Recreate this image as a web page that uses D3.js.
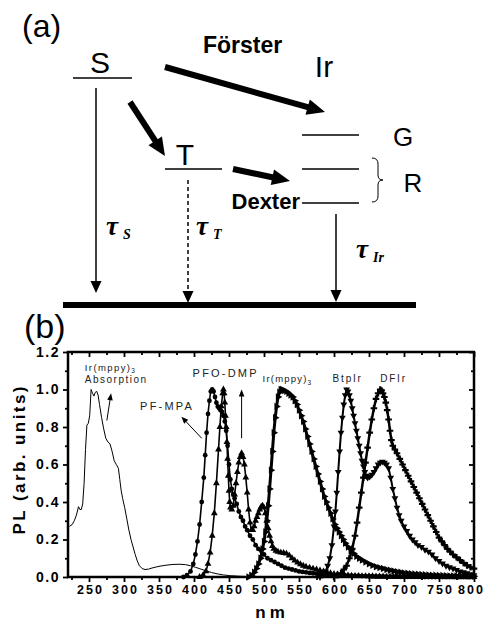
<!DOCTYPE html>
<html>
<head>
<meta charset="utf-8">
<script src="https://cdnjs.cloudflare.com/ajax/libs/d3/7.8.5/d3.min.js"></script>
<style>
body { margin: 0; background: #fff; }
svg { display: block; font-family: "Liberation Sans", Arial, sans-serif; }
</style>
</head>
<body>
<svg id="chart" width="484" height="621"></svg>
<script>
// ---- panel (a): energy level scheme ----
const levels = [
    { x1: 73, x2: 132, y: 78 },    // S
    { x1: 165, x2: 222, y: 169 },  // T
    { x1: 302, x2: 359, y: 135 },  // Ir G
    { x1: 302, x2: 359, y: 169 },  // Ir R upper
    { x1: 302, x2: 359, y: 203 }   // Ir R lower
];
const transferArrows = [
    { from: [165, 67], to: [325, 112] },   // Förster
    { from: [130, 102], to: [165, 156] },  // S -> T
    { from: [233, 169], to: [290, 181] }   // Dexter
];
const decayArrows = [
    { x: 96, y1: 88, y2: 293, dashed: false },
    { x: 188, y1: 180, y2: 303, dashed: true },
    { x: 336, y1: 214, y2: 302, dashed: false }
];
const schemeLabels = [
    { text: "(a)", x: 22, y: 37, size: 32, weight: "normal", anchor: "start" },
    { text: "S", x: 100, y: 73, size: 30, weight: "normal", anchor: "middle" },
    { text: "T", x: 185, y: 165, size: 30, weight: "normal", anchor: "middle" },
    { text: "Ir", x: 324, y: 77, size: 30, weight: "normal", anchor: "middle" },
    { text: "Förster", x: 203, y: 53, size: 23, weight: "bold", anchor: "start" },
    { text: "Dexter", x: 300, y: 209, size: 22, weight: "bold", anchor: "end" },
    { text: "G", x: 403, y: 146, size: 26, weight: "normal", anchor: "middle" },
    { text: "R", x: 413, y: 192, size: 26, weight: "normal", anchor: "middle" },
    { text: "(b)", x: 24, y: 338, size: 34, weight: "normal", anchor: "start" }
];
const tauLabels = [
    { sub: "S", x: 106, y: 235 },
    { sub: "T", x: 196, y: 235 },
    { sub: "Ir", x: 356, y: 258 }
];

// ---- panel (b): spectra (nm, normalised PL) ----
const absorption = [[222,0.27],[226,0.28],[229,0.3],[232,0.33],[235,0.375],[237,0.36],[239,0.36],[241,0.39],[243,0.5],[245,0.68],[247,0.81],[249,0.82],[251,0.86],[253,1.0],[255,0.98],[257,0.965],[259,0.985],[261,0.99],[263,0.97],[265,0.92],[268,0.85],[271,0.79],[274,0.74],[277,0.72],[280,0.71],[283,0.67],[286,0.62],[289,0.6],[292,0.58],[294,0.52],[296,0.46],[298,0.42],[301,0.37],[304,0.31],[307,0.25],[310,0.2],[313,0.16],[316,0.12],[319,0.085],[322,0.06],[326,0.045],[330,0.04],[335,0.042],[340,0.048],[350,0.057],[360,0.063],[370,0.067],[380,0.068],[388,0.066],[395,0.06],[402,0.052],[410,0.042],[418,0.032],[425,0.024],[433,0.017],[442,0.011],[452,0.007],[465,0.004],[480,0.002],[500,0.001],[520,0]];

const pfMpa = [[385,0],[390,0.01],[395,0.03],[399,0.07],[402,0.12],[405,0.19],[408,0.28],[411,0.4],[414,0.53],[416,0.65],[418,0.77],[420,0.87],[422,0.94],[424,0.99],[426,1.0],[428,0.99],[430,0.96],[432,0.93],[434,0.91],[436,0.9],[438,0.89],[440,0.88],[442,0.86],[444,0.83],[446,0.78],[448,0.7],[450,0.6],[452,0.52],[454,0.47],[456,0.44],[458,0.42],[461,0.39],[464,0.35],[467,0.32],[470,0.3],[473,0.27],[476,0.25],[480,0.22],[484,0.2],[488,0.17],[492,0.15],[496,0.14],[500,0.12],[505,0.1],[510,0.09],[515,0.08],[520,0.07],[525,0.06],[530,0.05],[535,0.045],[540,0.04],[545,0.035],[550,0.03],[555,0.027],[560,0.025],[565,0.022],[570,0.02],[575,0.018],[580,0.017],[585,0.015],[590,0.014],[595,0.012],[600,0.011],[605,0.01],[610,0.009],[615,0.008],[620,0.007],[625,0.007],[630,0.006],[635,0.006],[640,0.005],[645,0.005],[650,0.004],[655,0.004],[660,0.003],[665,0.003],[670,0.003],[675,0.002],[680,0.002],[685,0.002],[690,0.002],[695,0.001],[700,0.001],[705,0.001],[710,0.001],[715,0.001],[720,0.001],[725,0],[730,0],[735,0],[740,0],[745,0],[750,0],[755,0],[760,0],[765,0],[770,0],[775,0],[780,0],[785,0],[790,0],[795,0],[800,0]];

const pfoDmp = [[408,0],[413,0.01],[417,0.03],[420,0.07],[423,0.13],[426,0.22],[429,0.34],[432,0.5],[435,0.68],[437,0.8],[439,0.91],[441,0.98],[442,1.0],[443,0.98],[444,0.93],[445,0.86],[446,0.8],[447,0.72],[448,0.63],[449,0.54],[450,0.46],[451,0.4],[452,0.37],[454,0.36],[456,0.38],[458,0.44],[460,0.5],[462,0.56],[464,0.61],[466,0.64],[468,0.66],[470,0.64],[472,0.6],[474,0.53],[476,0.45],[478,0.36],[480,0.29],[482,0.25],[484,0.25],[486,0.27],[488,0.3],[490,0.32],[492,0.34],[494,0.36],[496,0.375],[498,0.38],[500,0.37],[502,0.34],[504,0.3],[506,0.26],[508,0.22],[510,0.19],[512,0.165],[514,0.15],[517,0.14],[520,0.135],[524,0.13],[528,0.128],[532,0.125],[536,0.115],[540,0.1],[544,0.088],[548,0.077],[552,0.068],[556,0.06],[560,0.055],[565,0.05],[570,0.045],[575,0.04],[580,0.035],[585,0.03],[590,0.025],[595,0.02],[600,0.016],[605,0.014],[610,0.012],[615,0.01],[620,0.008],[625,0.007],[630,0.006],[635,0.006],[640,0.005],[645,0.005],[650,0.004],[655,0.004],[660,0.003],[665,0.003],[670,0.003],[675,0.002],[680,0.002],[685,0.002],[690,0.001],[695,0.001],[700,0.001],[705,0.001],[710,0.001],[715,0],[720,0],[725,0],[730,0],[735,0],[740,0],[745,0],[750,0],[755,0],[760,0],[765,0],[770,0],[775,0],[780,0],[785,0],[790,0],[795,0],[800,0]];

const irMppy = [[478,0],[482,0.01],[486,0.025],[489,0.045],[492,0.07],[495,0.1],[498,0.15],[500,0.19],[502,0.24],[504,0.3],[506,0.38],[508,0.47],[510,0.57],[512,0.67],[514,0.77],[516,0.85],[518,0.91],[520,0.96],[522,0.985],[524,1.0],[526,1.0],[529,0.995],[532,0.99],[535,0.98],[538,0.97],[541,0.96],[544,0.94],[547,0.92],[550,0.89],[553,0.86],[556,0.83],[559,0.79],[562,0.75],[565,0.71],[568,0.67],[571,0.63],[574,0.59],[577,0.55],[580,0.51],[583,0.47],[586,0.43],[589,0.4],[592,0.37],[595,0.34],[598,0.31],[601,0.28],[604,0.26],[607,0.24],[610,0.22],[613,0.2],[616,0.18],[620,0.16],[624,0.14],[628,0.125],[632,0.11],[636,0.1],[640,0.09],[645,0.08],[650,0.07],[655,0.062],[660,0.055],[665,0.05],[670,0.045],[675,0.04],[680,0.036],[685,0.032],[690,0.028],[695,0.025],[700,0.022],[705,0.02],[710,0.018],[715,0.016],[720,0.015],[725,0.013],[730,0.012],[735,0.011],[740,0.01],[745,0.009],[750,0.008],[755,0.008],[760,0.007],[765,0.006],[770,0.006],[775,0.005],[780,0.005],[785,0.005],[790,0.005],[795,0.004],[800,0.004]];

const btpIr = [[580,0],[584,0.01],[588,0.03],[591,0.06],[594,0.1],[597,0.17],[600,0.27],[602,0.35],[604,0.45],[606,0.56],[608,0.67],[610,0.77],[612,0.85],[614,0.92],[616,0.97],[618,1.0],[620,0.99],[622,0.97],[624,0.94],[626,0.9],[628,0.86],[630,0.82],[632,0.78],[634,0.74],[636,0.7],[638,0.66],[640,0.62],[642,0.59],[644,0.56],[646,0.54],[648,0.53],[651,0.535],[654,0.545],[657,0.56],[660,0.58],[663,0.6],[666,0.61],[669,0.615],[672,0.61],[675,0.6],[678,0.58],[681,0.53],[684,0.47],[687,0.42],[690,0.37],[693,0.33],[696,0.3],[700,0.27],[704,0.245],[708,0.22],[712,0.2],[716,0.185],[720,0.17],[725,0.16],[730,0.145],[735,0.135],[740,0.12],[745,0.1],[750,0.085],[755,0.072],[760,0.06],[765,0.052],[770,0.045],[775,0.038],[780,0.03],[785,0.025],[790,0.02],[795,0.015],[800,0.01]];

const dfIr = [[600,0],[605,0.01],[610,0.02],[614,0.04],[618,0.06],[622,0.1],[626,0.15],[630,0.22],[633,0.29],[636,0.37],[639,0.45],[642,0.53],[645,0.61],[648,0.69],[651,0.77],[654,0.84],[657,0.9],[660,0.95],[663,0.98],[666,1.0],[668,0.995],[670,0.98],[672,0.96],[674,0.93],[676,0.89],[678,0.84],[680,0.78],[682,0.73],[684,0.7],[687,0.68],[690,0.66],[694,0.63],[698,0.6],[702,0.57],[706,0.54],[710,0.51],[714,0.48],[718,0.45],[722,0.42],[726,0.39],[730,0.36],[734,0.33],[738,0.3],[742,0.27],[746,0.24],[750,0.21],[754,0.19],[758,0.17],[762,0.15],[766,0.135],[770,0.12],[775,0.105],[780,0.09],[785,0.075],[790,0.062],[795,0.052],[800,0.045]];

const xMajor = [250, 300, 350, 400, 450, 500, 550, 600, 650, 700, 750, 800];
const xMinor = [225, 275, 325, 375, 425, 475, 525, 575, 625, 675, 725, 775];
const yMajor = [0, 0.2, 0.4, 0.6, 0.8, 1.0, 1.2];
const yMinor = [0.1, 0.3, 0.5, 0.7, 0.9, 1.1];

// annotation labels and pointer arrows, in data units
const specLabels = [
    { text: "Ir(mppy)", sub: "3", nm: 244, v: 1.1, size: 9.5, spacing: 1.4 },
    { text: "Absorption", nm: 244, v: 1.033, size: 10, spacing: 1.5 },
    { text: "PFO-DMP", nm: 398, v: 1.065, size: 11, spacing: 2.2 },
    { text: "PF-MPA", nm: 323, v: 0.89, size: 11, spacing: 2.2 },
    { text: "Ir(mppy)", sub: "3", nm: 498, v: 1.04, size: 9.5, spacing: 1.2 },
    { text: "BtpIr", nm: 598, v: 1.04, size: 10, spacing: 1.8 },
    { text: "DFIr", nm: 666, v: 1.04, size: 10, spacing: 1.8 }
];
const specArrows = [
    { from: [275.5, 0.835], to: [281.5, 0.98] },
    { from: [411, 0.74], to: [382, 0.855] },
    { from: [468, 0.74], to: [468, 1.0] }
];

const svg = d3.select("#chart");

// arrow helper: shortens the shaft and draws a filled head at the tip
function arrow(g, x1, y1, x2, y2, width, headLen, headHalf, dashed) {
    const dx = x2 - x1, dy = y2 - y1;
    const len = Math.hypot(dx, dy);
    const ux = dx / len, uy = dy / len;
    const bx = x2 - ux * headLen, by = y2 - uy * headLen;
    g.append("line")
        .attr("x1", x1).attr("y1", y1)
        .attr("x2", bx + ux * 1).attr("y2", by + uy * 1)
        .attr("stroke", "#000")
        .attr("stroke-width", width)
        .attr("stroke-dasharray", dashed ? "4,3" : null);
    g.append("path")
        .attr("d", `M${x2},${y2}L${bx - uy * headHalf},${by + ux * headHalf}L${bx + uy * headHalf},${by - ux * headHalf}Z`)
        .attr("fill", "#000");
}

// ---- draw panel (a) ----
const scheme = svg.append("g").attr("class", "scheme");

scheme.selectAll("line.level")
    .data(levels)
    .enter()
    .append("line")
    .attr("class", "level")
    .attr("x1", d => d.x1).attr("x2", d => d.x2)
    .attr("y1", d => d.y).attr("y2", d => d.y)
    .attr("stroke", "#000")
    .attr("stroke-width", 1.5);

transferArrows.forEach(a => arrow(scheme, a.from[0], a.from[1], a.to[0], a.to[1], 6, 18, 8, false));
decayArrows.forEach(a => arrow(scheme, a.x, a.y1, a.x, a.y2, 1.5, 12, 5.5, a.dashed));

// ground state
scheme.append("line")
    .attr("x1", 63).attr("x2", 416)
    .attr("y1", 305).attr("y2", 305)
    .attr("stroke", "#000")
    .attr("stroke-width", 6);

// brace for R
scheme.append("path")
    .attr("d", "M372,158 Q378,158 378,164 L378,175 Q378,180 383,180 Q378,180 378,185 L378,196 Q378,202 372,202")
    .attr("fill", "none")
    .attr("stroke", "#000")
    .attr("stroke-width", 1);

scheme.selectAll("text.lbl")
    .data(schemeLabels)
    .enter()
    .append("text")
    .attr("class", "lbl")
    .attr("x", d => d.x).attr("y", d => d.y)
    .attr("font-size", d => d.size)
    .attr("font-weight", d => d.weight)
    .attr("text-anchor", d => d.anchor)
    .text(d => d.text);

const tau = scheme.selectAll("text.tau")
    .data(tauLabels)
    .enter()
    .append("text")
    .attr("class", "tau")
    .attr("x", d => d.x).attr("y", d => d.y)
    .attr("font-family", "'Liberation Serif', 'DejaVu Serif', serif")
    .attr("font-style", "italic")
    .attr("font-weight", "bold");
tau.append("tspan").attr("font-size", 27).text("τ");
tau.append("tspan")
    .attr("font-size", 14)
    .attr("dx", 5).attr("dy", 4)
    .text(d => d.sub);

// ---- draw panel (b) ----
const x = d3.scaleLinear().domain([220, 800]).range([68, 474]);
const y = d3.scaleLinear().domain([0, 1.2]).range([577, 352]);

const plot = svg.append("g").attr("class", "spectra");

function tickAxis(axis, values, size, labels) {
    const g = plot.append("g").call(axis.tickValues(values).tickSize(size).tickSizeOuter(0)
        .tickFormat(labels || (() => "")));
    g.select(".domain").remove();
    g.selectAll(".tick line").attr("stroke", "#000").attr("stroke-width", 1.8);
    return g;
}

const bottom = tickAxis(d3.axisBottom(x), xMajor, 5, d => d);
bottom.attr("transform", `translate(0,${y(0)})`);
tickAxis(d3.axisBottom(x), xMinor, 3).attr("transform", `translate(0,${y(0)})`);
bottom.selectAll(".tick text")
    .attr("font-size", 12.5)
    .attr("font-weight", "bold")
    .attr("letter-spacing", "2px")
    .attr("fill", "#000")
    .attr("dx", d => d === 800 ? "-3px" : "1px");

tickAxis(d3.axisTop(x), xMajor, -5).attr("transform", `translate(0,${y(1.2)})`);
tickAxis(d3.axisTop(x), xMinor, -3).attr("transform", `translate(0,${y(1.2)})`);

const left = tickAxis(d3.axisLeft(y), yMajor, 5, d3.format(".1f"));
left.attr("transform", `translate(${x(220)},0)`);
tickAxis(d3.axisLeft(y), yMinor, 3).attr("transform", `translate(${x(220)},0)`);
left.selectAll(".tick text")
    .attr("font-size", 14)
    .attr("font-weight", "bold")
    .attr("letter-spacing", "1.5px")
    .attr("fill", "#000");

tickAxis(d3.axisRight(y), yMajor, -5).attr("transform", `translate(${x(800)},0)`);
tickAxis(d3.axisRight(y), yMinor, -3).attr("transform", `translate(${x(800)},0)`);

// frame
plot.append("rect")
    .attr("x", x(220)).attr("y", y(1.2))
    .attr("width", x(800) - x(220))
    .attr("height", y(0) - y(1.2))
    .attr("fill", "none")
    .attr("stroke", "#000")
    .attr("stroke-width", 2.5);

// axis titles
plot.append("text")
    .attr("transform", `translate(25,${(y(0) + y(1.2)) / 2 - 4}) rotate(-90)`)
    .attr("text-anchor", "middle")
    .attr("font-size", 17)
    .attr("font-weight", "bold")
    .attr("textLength", 148)
    .attr("lengthAdjust", "spacing")
    .text("PL (arb. units)");

plot.append("text")
    .attr("x", 272).attr("y", 618)
    .attr("text-anchor", "middle")
    .attr("font-size", 17)
    .attr("font-weight", "bold")
    .attr("letter-spacing", "4px")
    .text("nm");

// curves
const line = d3.line().x(d => x(d[0])).y(d => y(d[1]));

plot.append("path")
    .datum(absorption)
    .attr("d", line)
    .attr("fill", "none")
    .attr("stroke", "#000")
    .attr("stroke-width", 1);

const series = [
    { name: "PF-MPA", data: pfMpa, symbol: d3.symbolCircle, size: 18, rotate: 0, lw: 1.6 },
    { name: "PFO-DMP", data: pfoDmp, symbol: d3.symbolTriangle, size: 20, rotate: 0, lw: 1.6 },
    { name: "Ir(mppy)3", data: irMppy, symbol: d3.symbolTriangle, size: 24, rotate: 90, lw: 3 },
    { name: "BtpIr", data: btpIr, symbol: d3.symbolTriangle, size: 20, rotate: 180, lw: 2 },
    { name: "DFIr", data: dfIr, symbol: d3.symbolCross, size: 24, rotate: 0, lw: 2.5 }
];

series.forEach(s => {
    const g = plot.append("g").attr("class", "series");
    g.append("path")
        .datum(s.data)
        .attr("d", line)
        .attr("fill", "none")
        .attr("stroke", "#000")
        .attr("stroke-width", s.lw);
    g.selectAll("path.pt")
        .data(s.data)
        .enter()
        .append("path")
        .attr("class", "pt")
        .attr("d", d3.symbol().type(s.symbol).size(s.size))
        .attr("transform", d => `translate(${x(d[0])},${y(d[1])}) rotate(${s.rotate})`)
        .attr("fill", "#000");
});

// annotations
const ann = plot.selectAll("text.ann")
    .data(specLabels)
    .enter()
    .append("text")
    .attr("class", "ann")
    .attr("x", d => x(d.nm)).attr("y", d => y(d.v))
    .attr("font-size", d => d.size)
    .attr("letter-spacing", d => d.spacing + "px")
    .attr("fill", "#222");
ann.append("tspan").text(d => d.text);
ann.filter(d => d.sub)
    .append("tspan")
    .attr("font-size", 6.5)
    .attr("dy", 2.5)
    .text(d => d.sub);

specArrows.forEach(a => arrow(plot, x(a.from[0]), y(a.from[1]), x(a.to[0]), y(a.to[1]), 1, 7, 2.8, false));
</script>
</body>
</html>
